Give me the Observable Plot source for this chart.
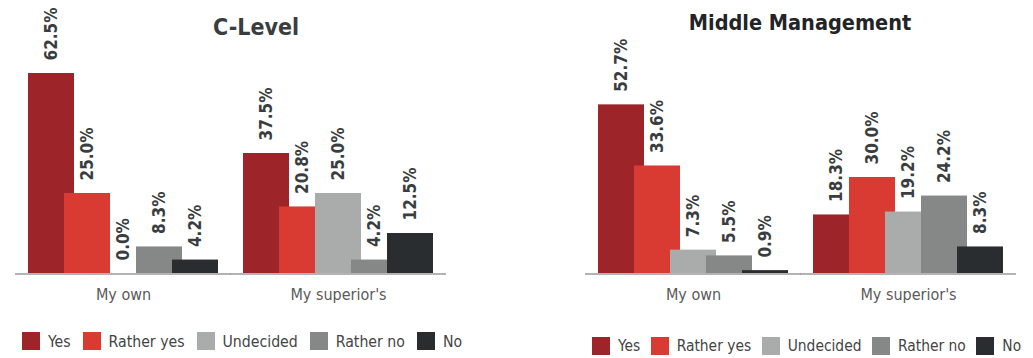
<!DOCTYPE html>
<html>
<head>
<meta charset="utf-8">
<script src="https://cdn.jsdelivr.net/npm/d3@7"></script>
<script src="https://cdn.jsdelivr.net/npm/@observablehq/plot@0.6"></script>
<style>
  html, body { margin: 0; padding: 0; background: #fff; }
  body { width: 1033px; height: 358px; overflow: hidden; position: relative;
         font-family: "DejaVu Sans Condensed", "DejaVu Sans", sans-serif; }
  .panel { position: absolute; top: 0; width: 463px; height: 358px; }
  .panel svg { position: absolute; left: 0; top: 0; overflow: visible; }
  .title { position: absolute; line-height: 1; font-weight: bold; white-space: nowrap;
           transform: translateX(-50%); }
  .legend { position: absolute; display: flex; align-items: center; height: 18px;
            font-size: 15.7px; color: #444; white-space: nowrap; }
  .legend .item { display: flex; align-items: center; margin-right: 12px; }
  .legend .sw { width: 18px; height: 18px; margin-right: 8px; }
  #right .legend { font-size: 15.4px; }
  #right .legend .item { margin-right: 10.5px; }
</style>
</head>
<body>
<div id="left" class="panel" style="left:0px"></div>
<div id="right" class="panel" style="left:570px"></div>
<script>
const groups = ["My own", "My superior's"];
const answers = ["Yes", "Rather yes", "Undecided", "Rather no", "No"];
const colors = ["#9d2428", "#d93b33", "#a9acab", "#868887", "#2a2d30"];

const cLevelOwn = [62.5, 25.0, 0.0, 8.3, 4.2];
const cLevelSuperior = [37.5, 20.8, 25.0, 4.2, 12.5];
const middleOwn = [52.7, 33.6, 7.3, 5.5, 0.9];
const middleSuperior = [18.3, 30.0, 19.2, 24.2, 8.3];

const titles = ["C-Level", "Middle Management"];

function rows(own, sup) {
  const out = [];
  answers.forEach((a, i) => out.push({group: groups[0], answer: a, value: own[i]}));
  answers.forEach((a, i) => out.push({group: groups[1], answer: a, value: sup[i]}));
  return out;
}

function chart(data) {
  return Plot.plot({
    width: 463,
    height: 310,
    marginLeft: 15,
    marginRight: 16,
    marginTop: 73,
    marginBottom: 37,
    style: {fontFamily: '"DejaVu Sans Condensed", "DejaVu Sans", sans-serif', background: "transparent"},
    fx: {domain: groups, paddingInner: 0.1435, paddingOuter: 0.0718, label: null},
    x: {domain: answers, padding: 0, axis: null},
    y: {domain: [0, 62.5], axis: null},
    color: {domain: answers, range: colors},
    marks: [
      Plot.barY(data, {fx: "group", x: "answer", y: "value", fill: "answer",
        insetLeft: -5, insetRight: -5}),
      Plot.ruleY([0], {stroke: "#9a9a9a", strokeWidth: 1.5, insetLeft: -16, insetRight: -16, dy: 0.5}),
      Plot.text(data, {fx: "group", x: "answer", y: "value",
        text: d => d.value.toFixed(1) + "%", rotate: -90, textAnchor: "start",
        dy: -13, fontWeight: "bold", fontSize: 17, fill: "#3a3d40"}),
      Plot.axisFx({anchor: "bottom", label: null, tickSize: 0, tickPadding: 15,
        fontSize: 16, color: "#5a5a5a"})
    ]
  });
}

function legend(el, top) {
  const lg = document.createElement("div");
  lg.className = "legend";
  lg.style.left = "22px";
  lg.style.top = top + "px";
  answers.forEach((a, i) => {
    const it = document.createElement("div");
    it.className = "item";
    const sw = document.createElement("div");
    sw.className = "sw";
    sw.style.background = colors[i];
    const tx = document.createElement("span");
    tx.textContent = a;
    it.appendChild(sw); it.appendChild(tx);
    lg.appendChild(it);
  });
  el.appendChild(lg);
}

function title(el, text, cx, top, size, color) {
  const t = document.createElement("div");
  t.className = "title";
  t.textContent = text;
  t.style.left = cx + "px";
  t.style.top = top + "px";
  t.style.fontSize = size + "px";
  t.style.color = color;
  el.appendChild(t);
}

const L = document.getElementById("left");
const R = document.getElementById("right");
L.appendChild(chart(rows(cLevelOwn, cLevelSuperior)));
R.appendChild(chart(rows(middleOwn, middleSuperior)));
title(L, titles[0], 256, 16, 23, "#3a3d40");
title(R, titles[1], 230, 12, 21.5, "#222426");
legend(L, 332);
legend(R, 337);
</script>
</body>
</html>
